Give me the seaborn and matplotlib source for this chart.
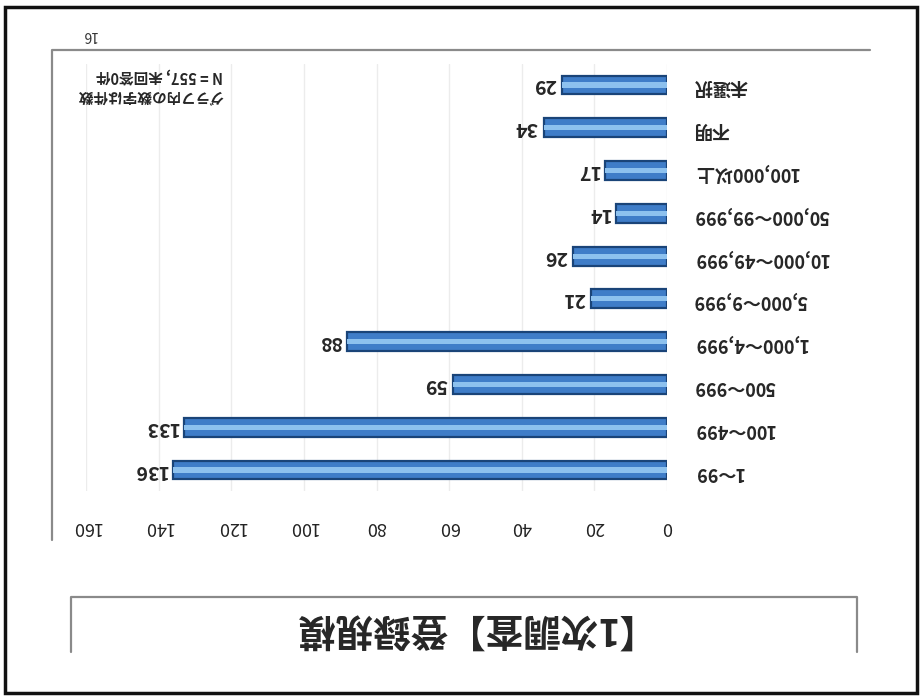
import pandas as pd
import matplotlib.pyplot as plt
import seaborn as sns
from matplotlib.lines import Line2D
from matplotlib.patches import Rectangle

# スキャン原稿は上下逆さま -> 180度回転した状態のまま描く

# -------- データ --------
categories = ["1～99", "100～499", "500～999", "1,000～4,999", "5,000～9,999",
              "10,000～49,999", "50,000～99,999", "100,000以上", "不明", "未選択"]
counts = [136, 133, 59, 88, 21, 26, 14, 17, 34, 29]
x_ticks = [0, 20, 40, 60, 80, 100, 120, 140, 160]
title = "【1次調査】登録規模"
note_lines = ["グラフ内の数字は件数", "N = 557, 未回答0件"]
page_no = "16"

W, H = 921, 696


def fx(px):
    return px / W


def fy(py):
    # 画像座標(上から) -> figure 座標(下から)
    return 1 - py / H


sns.set_theme(style="white")
plt.rcParams["font.family"] = ["Noto Sans CJK JP", "DejaVu Sans"]

fig = plt.figure(figsize=(W / 100, H / 100), dpi=100)
fig.patch.set_facecolor("white")

ax_l, ax_r = 86, 667
ax_t, ax_b = 63.6, 491.4
ax = fig.add_axes([fx(ax_l), fy(ax_b), fx(ax_r - ax_l), (ax_b - ax_t) / H])

df = pd.DataFrame({"規模": categories, "件数": counts})
order = categories[::-1]
sns.barplot(data=df, x="件数", y="規模", order=order, orient="h",
            width=0.44, color="#3f7dc8", edgecolor="#1a4478", linewidth=1.6,
            saturation=1, ax=ax)
# 立体風のハイライト
sns.barplot(data=df, x="件数", y="規模", order=order, orient="h",
            width=0.12, color="#8dc1ee", linewidth=0, saturation=1, ax=ax)

ax.set_xlim(0, 160)
ax.invert_xaxis()
ax.set_xticks(x_ticks)
ax.set_xlabel("")
ax.set_ylabel("")
ax.grid(axis="x", color="#ececec", linewidth=1)
ax.set_axisbelow(True)
for sp in ax.spines.values():
    sp.set_visible(False)

ax.yaxis.tick_right()
ax.tick_params(axis="y", length=0, pad=19, labelsize=13)
ax.tick_params(axis="x", length=0, pad=19, labelsize=13)
for lbl in ax.get_yticklabels():
    lbl.set_rotation(180)
    lbl.set_fontweight("bold")
    lbl.set_ha("left")
for lbl in ax.get_xticklabels():
    lbl.set_rotation(180)
    lbl.set_color("#222222")

# 棒の数値
for cat, v in zip(categories, counts):
    ax.annotate(str(v), xy=(v, order.index(cat)), xytext=(-4, 0),
                textcoords="offset points", ha="right", va="center",
                rotation=180, fontsize=14, fontweight="bold")

# タイトル枠（下辺なし）
box_col = "#8a8a8a"
fig.add_artist(Line2D([fx(71), fx(71), fx(857), fx(857)],
                      [fy(652), fy(597), fy(597), fy(652)],
                      color=box_col, lw=1.6))
fig.text(fx(428), fy(628), title, rotation=180, ha="center", va="center",
         fontsize=27, fontweight="bold")

# 内枠（上辺と左辺のみ見える）
fig.add_artist(Line2D([fx(52), fx(52), fx(870)], [fy(540), fy(50), fy(50)],
                      color=box_col, lw=1.6))

# 外枠
fig.add_artist(Rectangle((fx(5), fy(693)), fx(912), (693 - 7) / H,
                         fill=False, edgecolor="#111111", lw=2.5))

# 注記とページ番号
fig.text(fx(77), fy(86), "\n".join(note_lines), rotation=180, ha="left",
         va="center", fontsize=10.5, fontweight="bold", linespacing=1.25)
fig.text(fx(89), fy(35), page_no, rotation=180, ha="center", va="center",
         fontsize=10, color="#333333")

fig.savefig("out.png", dpi=100)
